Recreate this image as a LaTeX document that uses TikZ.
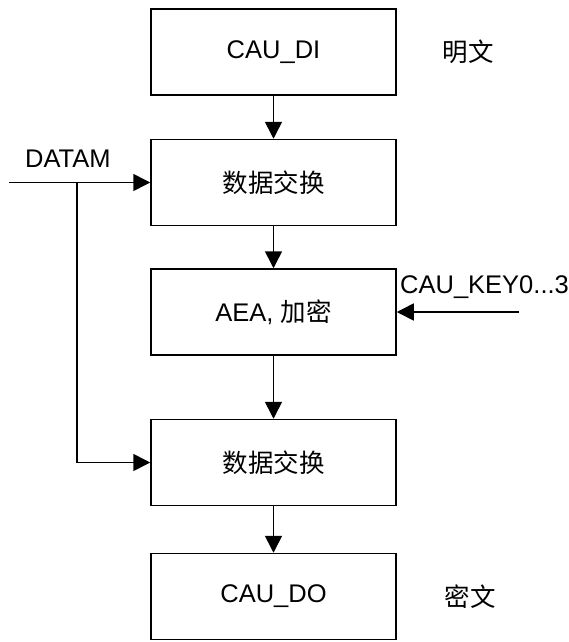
\documentclass[tikz,border=0pt]{standalone}
\usepackage{fontspec}
\setmainfont{Liberation Sans}
\newfontfamily\cjk{Noto Sans CJK SC}
\usetikzlibrary{arrows.meta}

\begin{document}
\begin{tikzpicture}[x=1pt, y=-1pt,
    block/.style={rectangle, draw, line width=1.5pt, minimum width=245pt, minimum height=86pt, inner sep=0pt, font=\fontsize{25.5}{30}\selectfont},
    sidetext/.style={inner sep=0pt, font=\fontsize{25.5}{30}\selectfont},
    flow/.style={-{Triangle[length=17pt, width=17pt]}, line width=1.6pt}]
    \useasboundingbox (0,0) rectangle (569,642);

    % Define positions of the blocks
    \node[block] (di) at (273.5, 52) {CAU\_DI};
    \node[block] (swap1) at (273.5, 182.5) {\cjk 数据交换};
    \node[block] (aea) at (273.5, 312) {AEA, {\cjk 加密}};
    \node[block] (swap2) at (273.5, 462.5) {\cjk 数据交换};
    \node[block] (do) at (273.5, 596.5) {CAU\_DO};

    % Side texts
    \node[sidetext] (plain) at (468, 52) {\cjk 明文};
    \node[sidetext] (cipher) at (470, 597) {\cjk 密文};
    \node[sidetext, anchor=base west] (datam) at (25, 167) {DATAM};
    \node[sidetext, anchor=base west] (key) at (400, 293) {CAU\_KEY0...3};

    % Free ends of the inputs
    \coordinate (datamin) at (9, 182.5);
    \coordinate (tap) at (77, 182.5);
    \coordinate (keyin) at (519, 312);

    % Draw the flow between the blocks
    \draw[flow] (di) -- (swap1);
    \draw[flow] (swap1) -- (aea);
    \draw[flow] (aea) -- (swap2);
    \draw[flow] (swap2) -- (do);

    % Draw the inputs
    \draw[flow] (datamin) -- (swap1);
    \draw[flow] (tap) |- (swap2);
    \draw[flow] (keyin) -- (aea);
\end{tikzpicture}
\end{document}
